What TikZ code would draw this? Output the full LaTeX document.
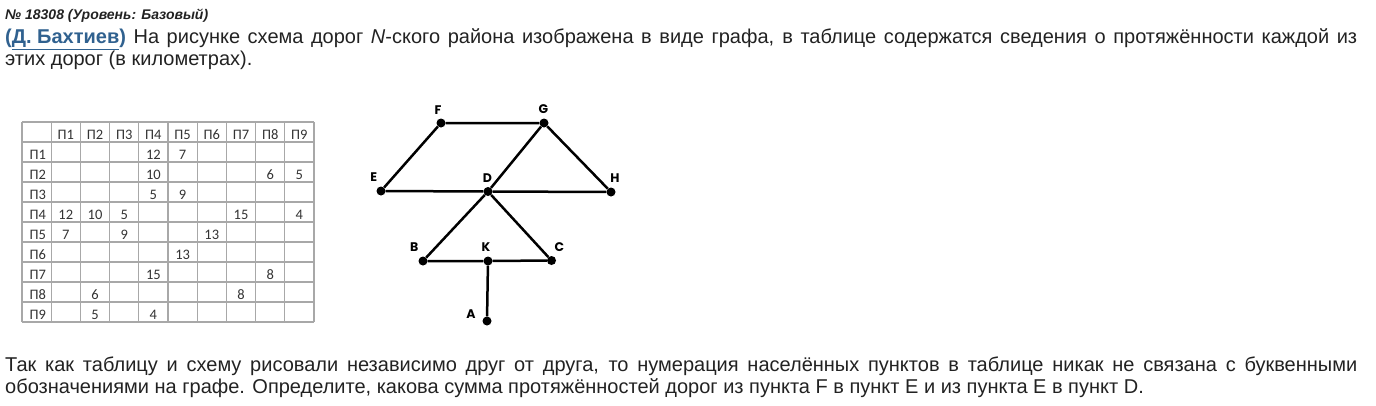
\documentclass[tikz,border=0pt]{standalone}
\usepackage{fontspec}
\setmainfont{Liberation Sans}
\newfontfamily\tabfont{Carlito}
\newfontfamily\lblfont{Poppins}
\definecolor{ink}{HTML}{222222}
\definecolor{linkblue}{HTML}{30618F}
\definecolor{tabgrey}{HTML}{A8A8A8}
\definecolor{tabink}{HTML}{333333}
\tikzstyle{txt}=[anchor=base west, inner sep=0pt, text=ink, font=\fontsize{20}{23}\selectfont]
\tikzstyle{road}=[line width=2.5pt, black]
\tikzstyle{pnt}=[circle, fill=black, inner sep=0pt, minimum size=9pt]
\tikzstyle{lbl}=[inner sep=0pt, font=\lblfont\bfseries\fontsize{12.5}{14}\selectfont]
\tikzstyle{tabline}=[line width=1.2pt, tabgrey]
\tikzstyle{cellnum}=[anchor=base, inner sep=0pt, text=tabink, font=\tabfont\fontsize{14.5}{16}\selectfont]
\newcommand{\fullline}[1]{\makebox[1352pt][s]{#1}}
\newcommand{\town}[3]{
  \node[pnt] (#1) at (#2) {};
  \node[lbl] (l#1) at (#3) {#1}
 }
\newcommand{\cell}[3]{\node[cellnum] (c#1-#2) at ({36.6+29.2*#2},{139.3+20*#1}) {#3}}

\begin{document}
\begin{tikzpicture}[x=1pt, y=-1pt]
       \useasboundingbox (0,0) rectangle (1376,405);
       % text above
       \node[txt] (hdr) at (5,19) {\fontsize{14}{16}\selectfont\bfseries\itshape № 18308 (Уровень: Базовый)};
       \node[txt] (intro1) at (5,43.5) {\fullline{\textcolor{linkblue}{\bfseries(\underline{Д. Бахтиев})} На рисунке схема дорог \textit{N}-ского района изображена в виде графа, в таблице содержатся сведения о протяжённости каждой из}};
       \node[txt] (intro2) at (5,65.5) {этих дорог (в километрах).};
       % table
       \foreach \c in {0,...,10} \draw[tabline] ({22+29.2*\c},122) -- ({22+29.2*\c},322);
       \foreach \r in {0,...,10} \draw[tabline] (22,{122+20*\r}) -- (314,{122+20*\r});
       \foreach \i in {1,...,9} {
         \cell{0}{\i}{П\i};
         \node[cellnum, anchor=base west] (r\i) at (29.5,{139.3+20*\i}) {П\i};
       }
       \cell 1 4 {12}; \cell 1 5 {7};
       \cell 2 4 {10}; \cell 2 8 {6}; \cell 2 9 {5};
       \cell 3 4 {5}; \cell 3 5 {9};
       \cell 4 1 {12}; \cell 4 2 {10}; \cell 4 3 {5}; \cell 4 7 {15}; \cell 4 9 {4};
       \cell 5 1 {7}; \cell 5 3 {9}; \cell 5 6 {13};
       \cell 6 5 {13};
       \cell 7 4 {15}; \cell 7 8 {8};
       \cell 8 2 {6}; \cell 8 7 {8};
       \cell 9 2 {5}; \cell 9 4 {4};
       % graph
       \town F {441,123} {438,110};
       \town G {544,123} {543.3,108.8};
       \town E {381,191} {373.7,176.7};
       \town D {488,191.5} {487.3,178.3};
       \town H {611,192} {615,178.3};
       \town B {423,261} {414.3,246.7};
       \town K {488,261} {486,246.7};
       \town C {551.5,260.5} {559.3,246.7};
       \town A {487,321} {471,314};
       \draw[road] (E) -- (F) -- (G) -- (H);
       \draw[road] (E) -- (D) -- (H);
       \draw[road] (G) -- (D) -- (B) -- (K) -- (C) -- (D);
       \draw[road] (K) -- (A);
       % text below
       \node[txt] (outro1) at (5,371) {\fullline{Так как таблицу и схему рисовали независимо друг от друга, то нумерация населённых пунктов в таблице никак не связана с буквенными}};
       \node[txt] (outro2) at (5,393) {обозначениями на графе. Определите, какова сумма протяжённостей дорог из пункта F в пункт E и из пункта E в пункт D.};
     \end{tikzpicture}
\end{document}
